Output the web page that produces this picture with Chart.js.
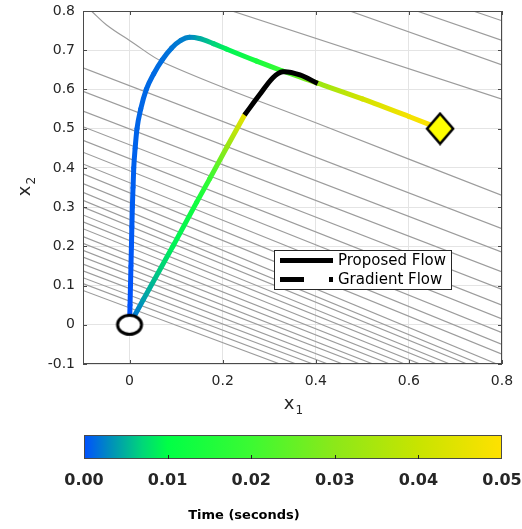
<!DOCTYPE html>
<html>
<head>
<meta charset="utf-8">
<script src="https://cdn.jsdelivr.net/npm/chart.js@4.4.1/dist/chart.umd.min.js"></script>
<style>
  body { margin: 0; background: #fff; }
  #wrap { position: relative; width: 522px; height: 529px; }
  #main { position: absolute; left: 0; top: 0; }
  #cbar { position: absolute; left: 0; top: 415px; }
  #cbTitle { position: absolute; left: 144px; top: 506px; width: 200px; text-align: center;
             font: bold 13px "DejaVu Sans", sans-serif; line-height: 18px; color: #000; }
</style>
</head>
<body>
<div id="wrap">
  <canvas id="main" width="522" height="415"></canvas>
  <canvas id="cbar" width="522" height="114"></canvas>
  <div id="cbTitle">Time (seconds)</div>
</div>
<script>
// axis ticks
const xTicks = [0, 0.2, 0.4, 0.6, 0.8];
const yTicks = [-0.1, 0, 0.1, 0.2, 0.3, 0.4, 0.5, 0.6, 0.7, 0.8];
const timeTicks = [0, 0.01, 0.02, 0.03, 0.04, 0.05];
const legendLabels = ["Proposed Flow", "Gradient Flow"];

// proposed flow (x, y, time)
const proposedX = [0, 0.001, 0.002, 0.003, 0.004, 0.005, 0.006, 0.0075, 0.009, 0.012, 0.016, 0.024, 0.036, 0.052, 0.07, 0.09, 0.11, 0.129, 0.15, 0.18, 0.208, 0.273, 0.329, 0.404, 0.5, 0.6, 0.667];
const proposedY = [0, 0.05, 0.1, 0.15, 0.2, 0.25, 0.3, 0.35, 0.4, 0.45, 0.5, 0.55, 0.6, 0.64, 0.675, 0.705, 0.725, 0.733, 0.73, 0.717, 0.703, 0.672, 0.647, 0.616, 0.576, 0.531, 0.5];
const proposedT = [0, 0.0001, 0.0002, 0.0003, 0.0004, 0.0005, 0.0006, 0.0007, 0.0008, 0.0009, 0.001, 0.0011, 0.0012, 0.0013, 0.0015, 0.0018, 0.0022, 0.0027, 0.0045, 0.0068, 0.009, 0.014, 0.02, 0.032, 0.042, 0.048, 0.05];

// gradient flow (x, y, time), then the black tail
const gradientX = [0, 0.03, 0.093, 0.144, 0.172, 0.21, 0.247];
const gradientY = [0, 0.065, 0.2, 0.312, 0.372, 0.455, 0.535];
const gradientT = [0.001, 0.004, 0.009, 0.013, 0.019, 0.032, 0.046];
const tailX = [0.247, 0.28, 0.308, 0.329, 0.366, 0.404];
const tailY = [0.535, 0.5875, 0.63, 0.645, 0.637, 0.615];

const startPoint = { x: 0, y: 0 };
const endPoint = { x: 0.667, y: 0.5 };

// level curves, read as polylines
const contours = [
  [[0.22, 0.8], [0.8, 0.575]],
  [[0.473, 0.8], [0.8, 0.6625]],
  [[0.617, 0.8], [0.8, 0.725]],
  [[0.738, 0.8], [0.8, 0.775]],
  [[-0.082, 0.8], [-0.05, 0.765], [0, 0.725], [0.08, 0.665], [0.4, 0.515], [0.8, 0.33]]
];
const contourEntryY = [0.0875, 0.105, 0.12, 0.1375, 0.155, 0.1725, 0.19, 0.2075, 0.225, 0.245, 0.2625, 0.28, 0.3, 0.3175, 0.3375,
                       0.36, 0.385, 0.41, 0.44, 0.47, 0.505, 0.545, 0.595, 0.655];
const contourExitBottomX = [0.323, 0.358, 0.394, 0.426, 0.458, 0.495, 0.523, 0.559, 0.591, 0.624, 0.66, 0.688, 0.725, 0.753, 0.789];
const contourExitRightY = [-0.075, -0.05, -0.02, 0.015, 0.05, 0.09, 0.135, 0.185, 0.245];

// colormap
const cmapStops = [
  [0, [0, 80, 255]],
  [0.003, [0, 140, 190]],
  [0.007, [0, 215, 120]],
  [0.01, [0, 255, 70]],
  [0.02, [60, 250, 50]],
  [0.03, [140, 232, 25]],
  [0.04, [200, 228, 0]],
  [0.05, [255, 225, 0]]
];
function cmap(t) {
  if (t <= cmapStops[0][0]) return rgb(cmapStops[0][1]);
  for (let i = 1; i < cmapStops.length; i++) {
    const [t1, c1] = cmapStops[i];
    const [t0, c0] = cmapStops[i - 1];
    if (t <= t1) {
      const f = (t - t0) / (t1 - t0);
      return rgb(c0.map((v, k) => v + (c1[k] - v) * f));
    }
  }
  return rgb(cmapStops[cmapStops.length - 1][1]);
}
function rgb(c) { return `rgb(${c.map(Math.round).join(",")})`; }

const FONT = '"DejaVu Sans", sans-serif';
Chart.defaults.font.family = FONT;
const mainCtx = document.getElementById("main").getContext("2d");

function timeSegments(times) {
  return ctx => {
    const g = mainCtx.createLinearGradient(ctx.p0.x, ctx.p0.y, ctx.p1.x, ctx.p1.y);
    g.addColorStop(0, cmap(times[ctx.p0DataIndex]));
    g.addColorStop(1, cmap(times[ctx.p1DataIndex]));
    return g;
  };
}

function ellipseIcon() {
  const c = document.createElement("canvas");
  c.width = 30; c.height = 24;
  const g = c.getContext("2d");
  g.beginPath();
  g.ellipse(15, 12, 12, 9.5, 0, 0, Math.PI * 2);
  g.fillStyle = "#fff"; g.fill();
  g.lineWidth = 3; g.strokeStyle = "#000"; g.stroke();
  return c;
}
function diamondIcon() {
  const c = document.createElement("canvas");
  c.width = 30; c.height = 34;
  const g = c.getContext("2d");
  g.beginPath();
  g.moveTo(15, 2); g.lineTo(28, 17); g.lineTo(15, 32); g.lineTo(2, 17); g.closePath();
  g.fillStyle = "#ffff00"; g.fill();
  g.lineWidth = 2.5; g.strokeStyle = "#000"; g.stroke();
  return c;
}

const zip = (xs, ys) => xs.map((x, i) => ({ x: x, y: ys[i] }));

let datasets = [];
let lines = contours.slice();
contourEntryY.forEach((y0, i) => {
  if (i < contourExitBottomX.length) lines.push([[-0.1, y0], [contourExitBottomX[i], -0.1]]);
  else lines.push([[-0.1, y0], [0.8, contourExitRightY[i - contourExitBottomX.length]]]);
});
lines.forEach(pts => {
  datasets.push({
    data: pts.map(p => ({ x: p[0], y: p[1] })),
    showLine: true, borderColor: "#9c9c9c", borderWidth: 1.2, pointRadius: 0,
    tension: pts.length > 2 ? 0.4 : 0, order: 10
  });
});
datasets.push({
  data: zip(gradientX, gradientY), showLine: true, borderWidth: 5, pointRadius: 0, tension: 0,
  borderCapStyle: "round", borderJoinStyle: "round",
  segment: { borderColor: timeSegments(gradientT) }, order: 6
});
datasets.push({
  data: zip(proposedX, proposedY), showLine: true, borderWidth: 5, pointRadius: 0,
  cubicInterpolationMode: "monotone",
  borderCapStyle: "round", borderJoinStyle: "round",
  segment: { borderColor: timeSegments(proposedT) }, order: 5
});
datasets.push({
  data: zip(tailX, tailY), showLine: true, borderWidth: 5, pointRadius: 0, tension: 0.35,
  borderColor: "#000", borderCapStyle: "butt", borderJoinStyle: "round", order: 4
});
datasets.push({ data: [startPoint], pointStyle: ellipseIcon(), pointRadius: 10, order: 2 });
datasets.push({ data: [endPoint], pointStyle: diamondIcon(), pointRadius: 10, order: 1 });

const fmt = v => (Math.abs(v) < 1e-9 ? "0" : String(+v.toFixed(1)));

const framePlugin = {
  id: "frame",
  afterDraw(chart) {
    const { ctx, chartArea: a, scales } = chart;
    ctx.save();
    ctx.strokeStyle = "#4a4a4a";
    ctx.lineWidth = 1;
    ctx.strokeRect(a.left + 0.5, a.top + 0.5, a.right - a.left - 1, a.bottom - a.top - 1);
    ctx.beginPath();
    xTicks.forEach(v => {
      const p = Math.round(scales.x.getPixelForValue(v)) + 0.5;
      ctx.moveTo(p, a.bottom); ctx.lineTo(p, a.bottom - 4);
      ctx.moveTo(p, a.top); ctx.lineTo(p, a.top + 4);
    });
    yTicks.forEach(v => {
      const p = Math.round(scales.y.getPixelForValue(v)) + 0.5;
      ctx.moveTo(a.left, p); ctx.lineTo(a.left + 4, p);
      ctx.moveTo(a.right, p); ctx.lineTo(a.right - 4, p);
    });
    ctx.stroke();

    // axis titles with subscripts
    ctx.fillStyle = "#262626";
    ctx.textBaseline = "alphabetic";
    const cx = (a.left + a.right) / 2;
    ctx.font = "18px " + FONT;
    ctx.textAlign = "right";
    ctx.fillText("x", cx + 2, 409);
    ctx.font = "12px " + FONT;
    ctx.textAlign = "left";
    ctx.fillText("1", cx + 3, 414);

    ctx.translate(30, (a.top + a.bottom) / 2);
    ctx.rotate(-Math.PI / 2);
    ctx.font = "18px " + FONT;
    ctx.textAlign = "right";
    ctx.fillText("x", 2, 0);
    ctx.font = "12px " + FONT;
    ctx.textAlign = "left";
    ctx.fillText("2", 3, 5);
    ctx.restore();
  }
};

const legendPlugin = {
  id: "flowLegend",
  afterDraw(chart) {
    const { ctx, chartArea: a } = chart;
    const x0 = a.left + 191, y0 = a.top + 239, w = 177, h = 39;
    ctx.save();
    ctx.fillStyle = "#fff";
    ctx.fillRect(x0, y0, w, h);
    ctx.strokeStyle = "#262626";
    ctx.lineWidth = 1;
    ctx.strokeRect(x0 + 0.5, y0 + 0.5, w, h);
    ctx.strokeStyle = "#000";
    ctx.lineWidth = 5;
    ctx.beginPath();
    ctx.moveTo(x0 + 6, y0 + 10.5); ctx.lineTo(x0 + 59, y0 + 10.5);
    ctx.moveTo(x0 + 6, y0 + 29.5); ctx.lineTo(x0 + 30, y0 + 29.5);
    ctx.stroke();
    ctx.fillStyle = "#000";
    ctx.fillRect(x0 + 55, y0 + 27, 4, 5);
    ctx.font = "15px " + FONT;
    ctx.textBaseline = "middle";
    ctx.fillText(legendLabels[0], x0 + 64, y0 + 11);
    ctx.fillText(legendLabels[1], x0 + 64, y0 + 30);
    ctx.restore();
  }
};

const chart = new Chart(mainCtx, {
  type: "scatter",
  data: { datasets: datasets },
  options: {
    responsive: false,
    animation: false,
    events: [],
    layout: { padding: { top: 5, right: 20, left: 0, bottom: 0 } },
    plugins: { legend: { display: false }, tooltip: { enabled: false } },
    scales: {
      x: {
        type: "linear", min: -0.1, max: 0.8,
        afterBuildTicks: s => { s.ticks = xTicks.map(v => ({ value: v })); },
        afterFit: s => { s.height = 51; s.paddingLeft = 0; s.paddingRight = 0; },
        ticks: { callback: v => fmt(v), color: "#262626", font: { size: 14 }, padding: 9, maxRotation: 0, autoSkip: false },
        grid: { color: "#e4e4e4", drawTicks: false },
        border: { display: false }
      },
      y: {
        type: "linear", min: -0.1, max: 0.8,
        afterBuildTicks: s => { s.ticks = yTicks.map(v => ({ value: v })); },
        afterFit: s => { s.width = 83; s.paddingTop = 0; s.paddingBottom = 0; },
        ticks: { callback: v => fmt(v), color: "#262626", font: { size: 14 }, padding: 8, autoSkip: false },
        grid: { color: "#e4e4e4", drawTicks: false },
        border: { display: false }
      }
    }
  },
  plugins: [framePlugin, legendPlugin]
});

// colorbar
const colorbarPlugin = {
  id: "colorbar",
  beforeDraw(c) {
    const { ctx, chartArea: a, scales } = c;
    const g = ctx.createLinearGradient(a.left, 0, a.right, 0);
    cmapStops.forEach(([t, col]) => g.addColorStop(t / 0.05, rgb(col)));
    ctx.save();
    ctx.fillStyle = g;
    ctx.fillRect(a.left, a.top, a.right - a.left, a.bottom - a.top);
    ctx.strokeStyle = "#4a4a4a";
    ctx.lineWidth = 1;
    ctx.strokeRect(a.left + 0.5, a.top + 0.5, a.right - a.left - 1, a.bottom - a.top - 1);
    ctx.strokeStyle = "#222";
    ctx.beginPath();
    timeTicks.slice(1, -1).forEach(v => {
      const p = Math.round(scales.x.getPixelForValue(v)) + 0.5;
      ctx.moveTo(p, a.bottom); ctx.lineTo(p, a.bottom - 4);
    });
    ctx.stroke();
    ctx.restore();
  }
};

const cbChart = new Chart(document.getElementById("cbar").getContext("2d"), {
  type: "scatter",
  data: { datasets: [] },
  options: {
    responsive: false,
    animation: false,
    events: [],
    layout: { padding: { top: 20, left: 84, right: 20, bottom: 0 } },
    plugins: { legend: { display: false }, tooltip: { enabled: false } },
    scales: {
      x: {
        type: "linear", min: 0, max: 0.05,
        afterBuildTicks: s => { s.ticks = timeTicks.map(v => ({ value: v })); },
        afterFit: s => { s.height = 70; s.paddingLeft = 0; s.paddingRight = 0; },
        ticks: { callback: v => v.toFixed(2), color: "#262626", font: { size: 16, weight: "bold" }, padding: 12, maxRotation: 0, autoSkip: false },
        grid: { display: false, drawTicks: false },
        border: { display: false }
      },
      y: { display: false, min: 0, max: 1 }
    }
  },
  plugins: [colorbarPlugin]
});
</script>
</body>
</html>
